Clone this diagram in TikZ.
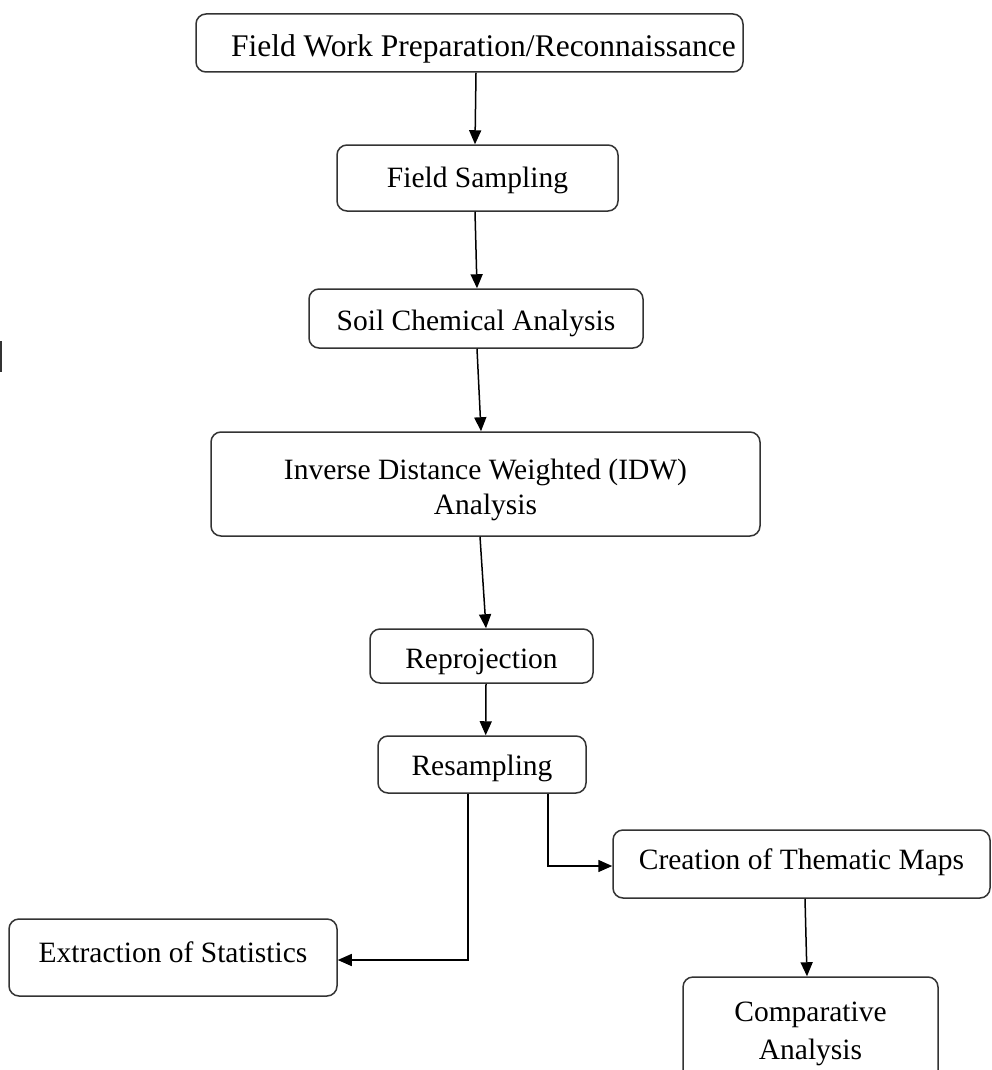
\documentclass[tikz,border=0pt]{standalone}
\usepackage{fontspec}
\setmainfont{Liberation Serif}
\usetikzlibrary{arrows.meta}
\tikzset{>/.tip={Triangle[width=12pt,length=14pt]},
  stage/.style={draw=black!80, line width=1.5pt, rounded corners=10pt, align=center,
    inner sep=0pt, text height=27pt, text depth=6pt, font=\fontsize{29.5}{35}\selectfont},
  twoline/.style={stage, text height=, text depth=},
  link/.style={->, line width=1.5pt}}

\begin{document}
\begin{tikzpicture}[x=1pt,y=-1pt]
\useasboundingbox (0,0) rectangle (992,1070);
\node[stage, minimum width=547pt, minimum height=58pt, text height=34pt, font=\fontsize{31.5}{36}\selectfont] (prep) at (469.5,43) {\hspace*{28pt}Field Work Preparation/Reconnaissance};
\node[stage, minimum width=281pt, minimum height=66pt, text height=24pt] (samp) at (477.5,178) {Field Sampling};
\node[stage, minimum width=334pt, minimum height=59pt, text height=29pt] (chem) at (476,318.5) {Soil Chemical Analysis};
\node[twoline, minimum width=549pt, minimum height=104pt] (idw) at (485.5,484) {\rule{0pt}{33pt}Inverse Distance Weighted (IDW)\\Analysis};
\node[stage, minimum width=223pt, minimum height=54pt, text height=30pt] (repr) at (481.5,656) {Reprojection};
\node[stage, minimum width=208pt, minimum height=57pt] (resa) at (482,764.5) {Resampling};
\node[stage, minimum width=377pt, minimum height=68pt, text height=16pt] (them) at (801.5,864) {Creation of Thematic Maps};
\node[stage, minimum width=328pt, minimum height=77pt, text height=15pt] (stat) at (173,957.5) {Extraction of Statistics};
\node[twoline, minimum width=255pt, minimum height=108pt] (comp) at (810.5,1031) {\rule{0pt}{26pt}Comparative\\[3pt]Analysis};
\draw[line width=2pt, black!80] (1,341) -- (1,372);
\draw[link] ([xshift=6.5pt]prep.south) -- ([xshift=-2.5pt]samp.north);
\draw[link] ([xshift=-2.5pt]samp.south) -- ([xshift=1pt]chem.north);
\draw[link] ([xshift=1pt]chem.south) -- ([xshift=-4.5pt]idw.north);
\draw[link] ([xshift=-5.5pt]idw.south) -- ([xshift=4.5pt]repr.north);
\draw[link] ([xshift=4.5pt]repr.south) -- ([xshift=3.7pt]resa.north);
\draw[link] ([xshift=-14pt]resa.south) |- ([yshift=-2.5pt]stat.east);
\draw[link] ([xshift=66pt]resa.south) |- ([yshift=-2pt]them.west);
\draw[link] ([xshift=3.5pt]them.south) -- ([xshift=-3.5pt]comp.north);
\end{tikzpicture}
\end{document}
